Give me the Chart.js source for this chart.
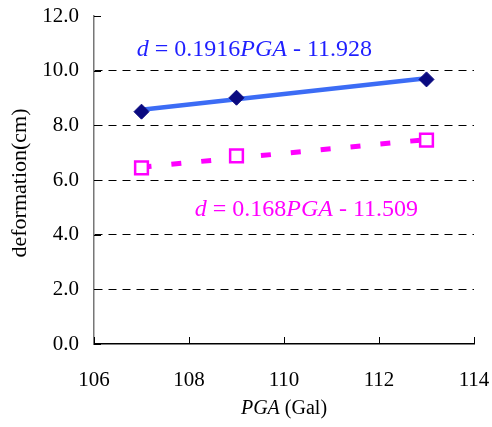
<!DOCTYPE html>
<html>
<head>
<meta charset="utf-8">
<script src="https://cdn.jsdelivr.net/npm/chart.js@4.4.1/dist/chart.umd.min.js"></script>
<style>
  body { margin: 0; background: #fff; }
  #wrap { width: 492px; height: 427px; }
</style>
</head>
<body>
<div id="wrap"><canvas id="myChart" width="492" height="427"></canvas></div>
<script>
const pga = [107, 109, 113];
const deformBlue = [8.50, 9.01, 9.68];
const deformPink = [6.44, 6.88, 7.46];
const fitX = [107, 113];
const fitBlue = [8.57, 9.72];
const fitPink = [6.47, 7.48];
const xTicks = [106, 108, 110, 112, 114];
const yTicks = [0, 2, 4, 6, 8, 10, 12];

const serif = "'Liberation Serif', 'Times New Roman', serif";

function pts(xs, ys) {
    return xs.map((x, i) => ({ x: x, y: ys[i] }));
}

// draw a line of text with some italic runs
function drawRuns(ctx, x, y, runs, size, color) {
    ctx.save();
    ctx.fillStyle = color;
    ctx.textBaseline = 'alphabetic';
    ctx.textAlign = 'left';
    let cx = x;
    runs.forEach(r => {
        ctx.font = (r.i ? 'italic ' : '') + size + 'px ' + serif;
        ctx.fillText(r.t, cx, y);
        cx += ctx.measureText(r.t).width;
    });
    ctx.restore();
}

function runsWidth(ctx, runs, size) {
    let w = 0;
    runs.forEach(r => {
        ctx.font = (r.i ? 'italic ' : '') + size + 'px ' + serif;
        w += ctx.measureText(r.t).width;
    });
    return w;
}

// keep the plot box where the layout padding puts it
function noOverflow(s) {
    s.paddingTop = 0;
    s.paddingBottom = 0;
    s.paddingLeft = 0;
    s.paddingRight = 0;
}

const extras = {
    id: 'extras',
    afterDraw(chart) {
        const ctx = chart.ctx;
        const xs = chart.scales.x;
        const ys = chart.scales.y;
        const area = chart.chartArea;

        // inward tick marks
        ctx.save();
        ctx.strokeStyle = '#000';
        ctx.lineWidth = 1;
        xTicks.forEach(v => {
            const px = Math.round(xs.getPixelForValue(v)) + 0.5;
            ctx.beginPath();
            ctx.moveTo(px, area.bottom);
            ctx.lineTo(px, area.bottom - 7);
            ctx.stroke();
        });
        yTicks.forEach(v => {
            const py = Math.round(ys.getPixelForValue(v)) + 0.5;
            ctx.beginPath();
            ctx.moveTo(area.left, py);
            ctx.lineTo(area.left + 7, py);
            ctx.stroke();
        });
        ctx.restore();

        // equations
        drawRuns(ctx, xs.getPixelForValue(106.9), ys.getPixelForValue(10.55),
            [{ t: 'd', i: true }, { t: ' = 0.1916' }, { t: 'PGA', i: true }, { t: ' - 11.928' }],
            24, '#1f1fff');
        drawRuns(ctx, xs.getPixelForValue(108.12), ys.getPixelForValue(4.7),
            [{ t: 'd', i: true }, { t: ' = 0.168' }, { t: 'PGA', i: true }, { t: ' - 11.509' }],
            24, '#ff00ff');

        // axis titles
        const xt = [{ t: 'PGA', i: true }, { t: ' (Gal)' }];
        const w = runsWidth(ctx, xt, 20);
        drawRuns(ctx, (area.left + area.right) / 2 - w / 2, 414, xt, 20, '#000');

        ctx.save();
        ctx.translate(20, (area.top + area.bottom) / 2 + 3);
        ctx.rotate(-Math.PI / 2);
        ctx.font = '22px ' + serif;
        ctx.fillStyle = '#000';
        ctx.textAlign = 'center';
        ctx.textBaseline = 'middle';
        ctx.fillText('deformation(cm)', 0, 0);
        ctx.restore();
    }
};

const ctx = document.getElementById('myChart').getContext('2d');
const chart = new Chart(ctx, {
    type: 'scatter',
    data: {
        datasets: [
            {
                type: 'line',
                data: pts(fitX, fitBlue),
                borderColor: '#3c6cf5',
                borderWidth: 4.5,
                pointRadius: 0,
                fill: false,
                order: 3,
            },
            {
                type: 'line',
                data: pts(fitX, fitPink),
                borderColor: '#ff00ff',
                borderWidth: 5,
                borderDash: [10, 20],
                pointRadius: 0,
                fill: false,
                order: 4,
            },
            {
                data: pts(pga, deformBlue),
                pointStyle: 'rectRot',
                pointRadius: 7.5,
                backgroundColor: '#0a0a80',
                borderColor: '#0a0a80',
                borderWidth: 1,
                order: 1,
            },
            {
                data: pts(pga, deformPink),
                pointStyle: 'rect',
                pointRadius: 9,
                backgroundColor: '#ffffff',
                borderColor: '#ff00ff',
                borderWidth: 2.5,
                order: 2,
            }
        ]
    },
    options: {
        responsive: false,
        animation: false,
        events: [],
        layout: { autoPadding: false, padding: { left: 0, top: 16, right: 18, bottom: 0 } },
        plugins: {
            legend: { display: false },
            tooltip: { enabled: false }
        },
        scales: {
            x: {
                type: 'linear',
                min: 106,
                max: 114,
                afterFit: s => { s.height = 83; noOverflow(s); },
                afterBuildTicks: s => { s.ticks = xTicks.map(v => ({ value: v })); },
                grid: { display: false },
                border: { display: true, color: '#000', width: 1.5 },
                ticks: {
                    padding: 16,
                    color: '#000',
                    font: { family: serif, size: 21 }
                }
            },
            y: {
                min: 0,
                max: 12,
                afterFit: s => { s.width = 94; noOverflow(s); },
                afterBuildTicks: s => { s.ticks = yTicks.map(v => ({ value: v })); },
                grid: {
                    drawTicks: false,
                    color: c => (c.tick && (c.tick.value === 0 || c.tick.value === 12)) ? 'rgba(0,0,0,0)' : '#000',
                    lineWidth: 1
                },
                border: { display: true, color: '#777', width: 1.5, dash: [8, 6] },
                ticks: {
                    padding: 15,
                    color: '#000',
                    font: { family: serif, size: 21 },
                    callback: v => v.toFixed(1)
                }
            }
        }
    },
    plugins: [extras]
});
</script>
</body>
</html>
